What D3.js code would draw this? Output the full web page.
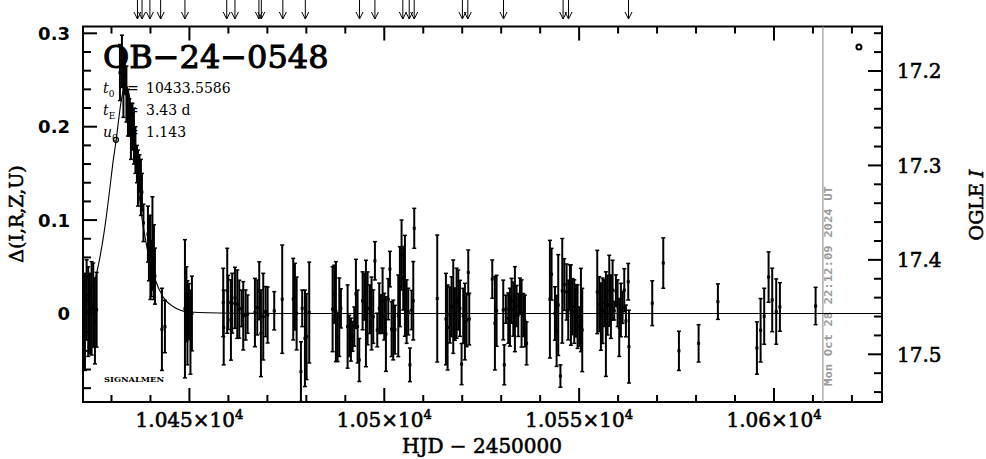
<!DOCTYPE html>
<html><head><meta charset="utf-8">
<script src="https://cdn.jsdelivr.net/npm/d3@7"></script>
<style>body{margin:0;background:#fff}svg{display:block}</style>
</head><body>
<script>
// ---------- DATA ----------
const hjd = [
10423.19,10423.62,10424.03,10424.47,10424.90,10425.31,10425.75,10426.19,
10432.17,10432.68,10433.06,10433.45,10433.83,10434.22,10434.60,10434.99,10435.37,10435.76,10436.14,10436.53,10436.79,10437.17,10437.55,10437.81,10438.20,10439.35,10439.61,10439.99,10440.25,10440.51,10440.89,10441.15,10442.94,10443.71,
10448.85,10449.23,10449.49,10449.87,10450.26,10450.64,
10458.67,10458.80,10459.70,10459.96,10460.65,10460.98,10461.68,10462.27,10462.78,10463.39,10463.81,10464.42,10464.93,10466.81,10467.40,10467.91,10468.35,10468.94,10469.55,10470.07,10471.76,10473.81,10476.64,10477.07,10477.51,10478.61,10478.94,10479.64,10480.07,10480.74,
10486.74,10487.16,10487.59,10488.02,10488.45,10488.87,10490.59,10491.01,10491.44,10491.87,10492.30,10492.72,10493.15,10493.58,10494.44,10494.86,10495.29,10495.72,10496.32,10496.74,10497.17,10497.60,10498.20,10498.71,10499.14,10499.57,10499.99,10500.42,10501.02,10501.45,10501.88,10502.30,10502.73,10503.59,10504.01,10504.44,10504.87,10505.30,10505.73,10506.15,10506.58,10507.01,10507.44,10507.69,10513.59,
10515.82,10516.25,10516.84,10517.27,10517.70,10518.13,10518.56,10518.98,10519.41,10519.84,10520.26,10520.69,10521.12,10521.55,10521.80,10527.71,10528.39,10528.82,10530.53,10530.79,10531.21,10531.81,10532.24,10532.67,10533.10,10533.52,10533.95,10534.38,10534.81,10535.23,10535.66,10536.09,10536.52,10542.50,10542.93,10543.79,10544.22,10544.64,10545.20,10545.67,10546.18,10546.78,10547.21,10547.64,
10547.89,10548.32,10548.75,10549.18,10549.60,10550.03,10550.46,10550.80,10554.65,10555.16,10555.59,10556.02,10556.45,10556.87,10557.30,10557.73,10558.16,10558.59,10559.01,10559.44,10559.87,10560.29,10560.72,10561.15,10561.58,10562.01,10562.60,10562.78,10568.76,10571.59,10575.61,
10580.66,10585.61,10595.62,10596.57,10597.49,10598.62,10599.55,10600.57,10601.52,10610.68
];
const delta = [
-0.009,0.0145,0.002,0.000,0.0055,0.009,-0.008,0.004,
0.258,0.270,0.245,0.255,0.235,0.215,0.210,0.195,0.200,0.190,0.175,0.160,0.145,0.150,0.135,0.130,0.097,0.085,0.070,0.060,0.048,0.075,0.055,0.040,-0.017,-0.014,
0.005,0.010,-0.010,0.002,-0.020,0.000,
0.0118,-0.015,0.0243,0.0118,-0.007,0.011,0.0168,0.010,0.0046,0.0055,-0.0025,-0.0016,-0.0007,0.001,0.0064,0.0243,-0.0212,-0.0034,0.002,-0.0016,0.0029,0.0153,0.0153,0.018,0.000,-0.0623,0.0055,-0.0266,-0.0248,0.001,
0.0046,0.0207,0.002,-0.0255,-0.004,0.0055,-0.014,-0.024,-0.028,-0.0245,-0.014,0.021,-0.014,-0.0498,0.0136,0.018,0.000,0.0055,0.0046,0.000,-0.0034,0.0564,-0.0177,0.0055,0.000,0.0136,-0.0034,-0.022,0.0153,0.0475,-0.0168,-0.0177,-0.0173,-0.0025,0.0287,0.0626,0.0377,0.0296,0.002,0.002,-0.055,0.0037,0.0136,0.0912,0.016,
-0.006,-0.015,-0.0016,0.0073,0.0073,-0.0007,0.011,0.0145,0.0055,-0.0542,-0.0025,-0.0087,-0.007,0.044,-0.006,0.0368,-0.0105,0.0029,0.0037,-0.055,0.0046,-0.005,-0.004,0.0136,0.0046,0.0046,0.008,-0.0016,0.0189,0.000,-0.0016,-0.008,-0.032,0.0153,0.042,0.000,-0.0187,0.009,-0.067,0.0243,0.031,0.023,0.0037,0.028,
0.009,0.0073,0.002,0.0029,-0.0034,-0.014,0.0037,-0.0177,0.023,0.010,-0.0034,0.0029,0.011,-0.0114,0.009,0.0243,0.0073,0.025,0.003,0.0243,0.011,-0.015,0.0037,0.0064,0.025,-0.008,0.034,-0.0355,0.011,0.054,-0.040,
-0.032,0.0127,-0.037,-0.018,-0.003,0.039,0.0145,0.002,0.007,0.008
];
const err = [
0.052,0.043,0.048,0.043,0.050,0.045,0.046,0.040,
0.030,0.028,0.035,0.020,0.030,0.025,0.020,0.030,0.025,0.030,0.025,0.020,0.030,0.020,0.030,0.020,0.020,0.030,0.035,0.045,0.030,0.050,0.040,0.030,0.044,0.028,
0.074,0.040,0.045,0.030,0.045,0.040,
0.0366,0.040,0.0455,0.029,0.043,0.032,0.0327,0.0366,0.031,0.0196,0.0366,0.0268,0.0205,0.0366,0.0294,0.031,0.0464,0.0464,0.0268,0.030,0.0205,0.058,0.0437,0.0357,0.039,0.032,0.0196,0.0517,0.046,0.054,
0.0455,0.031,0.0535,0.026,0.042,0.021,0.0446,0.022,0.023,0.016,0.021,0.037,0.039,0.023,0.031,0.025,0.057,0.039,0.026,0.039,0.0286,0.0205,0.018,0.027,0.020,0.035,0.025,0.040,0.022,0.019,0.0294,0.032,0.026,0.0437,0.0428,0.0375,0.034,0.054,0.034,0.025,0.018,0.021,0.042,0.0214,0.068,
0.049,0.0455,0.030,0.032,0.050,0.028,0.0375,0.032,0.030,0.022,0.0294,0.041,0.0286,0.024,0.0277,0.0205,0.050,0.038,0.032,0.0214,0.015,0.027,0.031,0.024,0.029,0.0455,0.022,0.023,0.019,0.036,0.023,0.0277,0.023,0.063,0.0277,0.0286,0.038,0.054,0.012,0.056,0.0277,0.030,0.032,0.024,
0.043,0.030,0.034,0.028,0.034,0.021,0.0446,0.0446,0.0446,0.0294,0.036,0.035,0.025,0.056,0.032,0.038,0.034,0.032,0.010,0.017,0.025,0.031,0.0286,0.017,0.023,0.017,0.0196,0.039,0.024,0.027,0.021,
0.020,0.019,0.028,0.034,0.030,0.027,0.034,0.035,0.026,0.020
];
const circleHJD = [10431.14];
const circleDelta = [0.186];
const legendHJD = [10621.8];
const legendDelta = [0.2853];

const curveHJD = [10422.67,10424.21,10425.75,10427.03,10428.32,10429.52,10430.45,10431.22,10431.91,10432.50,10433.56,10434.48,10435.25,10436.02,10436.78,10437.63,10438.91,10439.86,10441.07,10443.20,10445.77,10450.13,10460.39,10478.36,10627.7];
const curveDelta = [0.013,0.022,0.036,0.060,0.093,0.132,0.164,0.186,0.210,0.228,0.245,0.236,0.212,0.178,0.140,0.108,0.075,0.056,0.038,0.018,0.0075,0.0015,0.0003,0,0];

const arrowHJD = [10436.66,10437.84,10439.86,10442.61,10448.85,10459.57,10461.68,10467.83,10468.45,10473.97,10479.74,10493.65,10497.60,10504.76,10506.40,10507.68,10520.05,10521.44,10530.60,10545.89,10547.28,10562.67];

const xTicks = [10450, 10500, 10550, 10600];
const xTickMant = ["1.045", "1.05", "1.055", "1.06"];
const yTicksLeft = [0, 0.1, 0.2, 0.3];
const yTickLabelsLeft = ["0", "0.1", "0.2", "0.3"];
const yTicksRight = [17.2, 17.3, 17.4, 17.5];
const yTickLabelsRight = ["17.2", "17.3", "17.4", "17.5"];

const title = "OB\u221224\u22120548";
const paramT0 = "10433.5586";
const paramTE = "3.43 d";
const paramU0 = "1.143";
const dateStamp = "Mon Oct 28 22:12:09 2024 UT";
const dateLineHJD = 10612.55;

// ---------- LAYOUT ----------
const W = 986, H = 459;
const L = 83, R = 882, T = 26.5, B = 402;
const x = d3.scaleLinear().domain([10422.69, 10627.72]).range([L, R]);
const y = d3.scaleLinear().domain([-0.0948, 0.3073]).range([B, T]);
const yR = d3.scaleLinear().domain([17.5505, 17.1529]).range([B, T]);
const serif = "'DejaVu Serif', serif";

const svg = d3.select("body").append("svg").attr("width", W).attr("height", H)
  .style("font-family", serif);

function heavy(sel, w) { return sel.attr("stroke", "#000").attr("stroke-width", w).attr("paint-order", "stroke"); }

// frame
svg.append("rect").attr("x", L).attr("y", T).attr("width", R - L).attr("height", B - T)
  .attr("fill", "none").attr("stroke", "#000").attr("stroke-width", 2);

// x ticks (bottom & top)
const xMinor = d3.range(10430, 10625, 10);
const gt = svg.append("g").attr("stroke", "#000").attr("stroke-width", 2);
xMinor.forEach(v => {
  const major = v % 50 === 0;
  const len = major ? 14 : 7;
  gt.append("line").attr("x1", x(v)).attr("x2", x(v)).attr("y1", B).attr("y2", B - len);
  gt.append("line").attr("x1", x(v)).attr("x2", x(v)).attr("y1", T).attr("y2", T + len);
});
// left ticks
d3.range(-0.08, 0.301, 0.02).forEach(v => {
  const vv = Math.round(v * 100) / 100;
  const major = Math.abs(vv * 10 - Math.round(vv * 10)) < 1e-6;
  gt.append("line").attr("x1", L).attr("x2", L + (major ? 14 : 8)).attr("y1", y(vv)).attr("y2", y(vv));
});
// right ticks
d3.range(17.16, 17.541, 0.02).forEach(v => {
  const vv = Math.round(v * 100) / 100;
  const major = Math.abs(vv * 10 - Math.round(vv * 10)) < 1e-6;
  gt.append("line").attr("x1", R).attr("x2", R - (major ? 14 : 8)).attr("y1", yR(vv)).attr("y2", yR(vv));
});

// tick labels
xTicks.forEach((v, i) => {
  const t = heavy(svg.append("text").attr("x", x(v)).attr("y", 427).attr("text-anchor", "middle")
    .attr("font-size", 20).attr("fill", "#000"), 0.6);
  t.append("tspan").text(xTickMant[i] + "\u00d710");
  t.append("tspan").attr("dy", -8).attr("font-size", 13).text("4");
});
yTicksLeft.forEach((v, i) => {
  svg.append("text").attr("x", 70).attr("y", y(v)).attr("dy", "0.36em").attr("text-anchor", "end")
    .attr("font-family", "'DejaVu Sans', sans-serif").attr("font-weight", "bold")
    .attr("font-size", 18).text(yTickLabelsLeft[i]);
});
yTicksRight.forEach((v, i) => {
  heavy(svg.append("text").attr("x", 897).attr("y", yR(v)).attr("dy", "0.36em")
    .attr("font-size", 20).text(yTickLabelsRight[i]), 0.6);
});

// axis labels
heavy(svg.append("text").attr("x", 482).attr("y", 453).attr("text-anchor", "middle")
  .attr("font-size", 20).text("HJD  \u2212  2450000"), 0.6);
heavy(svg.append("text").attr("transform", "translate(23,214) rotate(-90)").attr("text-anchor", "middle")
  .attr("font-size", 19).text("\u0394(I,R,Z,U)"), 0.6);
const ogle = heavy(svg.append("text").attr("transform", "translate(983,205) rotate(-90)").attr("text-anchor", "middle")
  .attr("font-size", 19), 0.6);
ogle.append("tspan").text("OGLE ");
ogle.append("tspan").attr("font-style", "italic").text("I");

// title and parameters
heavy(svg.append("text").attr("x", 103).attr("y", 68).attr("font-size", 32).text(title), 1);
const pr = [[93, "0", paramT0], [115, "E", paramTE], [137, "0", paramU0]];
pr.forEach((p, i) => {
  const g = svg.append("text").attr("y", p[0]).attr("font-size", 14);
  g.append("tspan").attr("x", 103).attr("font-style", "italic").text(i === 2 ? "u" : "t");
  g.append("tspan").attr("dy", 4).attr("font-size", 9).text(p[1]);
  g.append("tspan").attr("x", 127).attr("dy", -4).text("=");
  g.append("tspan").attr("x", 146).text(p[2]);
});
svg.append("text").attr("x", 104).attr("y", 382).attr("font-size", 8).attr("font-weight", "bold")
  .attr("textLength", 60).attr("lengthAdjust", "spacingAndGlyphs").text("SIGNALMEN");

// date line and stamp
svg.append("line").attr("x1", x(dateLineHJD)).attr("x2", x(dateLineHJD)).attr("y1", T).attr("y2", B)
  .attr("stroke", "#999").attr("stroke-width", 1.2);
svg.append("text").attr("transform", `translate(${x(dateLineHJD) + 9},386) rotate(-90)`)
  .attr("font-family", "'DejaVu Sans Mono', monospace").attr("font-weight", "bold")
  .attr("font-size", 10).attr("fill", "#999")
  .attr("textLength", 200).attr("lengthAdjust", "spacingAndGlyphs").text(dateStamp);

// model curve
const line = d3.line().x(d => x(d[0])).y(d => y(d[1])).curve(d3.curveMonotoneX);
svg.append("path").datum(curveHJD.map((h, i) => [h, curveDelta[i]]))
  .attr("d", line).attr("fill", "none").attr("stroke", "#000").attr("stroke-width", 1.1);

// error bars
const gd = svg.append("g").attr("stroke", "#000");
hjd.forEach((h, i) => {
  const cx = x(h), y1 = y(delta[i] - err[i]), y2 = y(delta[i] + err[i]);
  gd.append("line").attr("x1", cx).attr("x2", cx).attr("y1", y1).attr("y2", y2).attr("stroke-width", 2);
  gd.append("line").attr("x1", cx - 2).attr("x2", cx + 2).attr("y1", y1).attr("y2", y1).attr("stroke-width", 1.5);
  gd.append("line").attr("x1", cx - 2).attr("x2", cx + 2).attr("y1", y2).attr("y2", y2).attr("stroke-width", 1.5);
  gd.append("rect").attr("x", cx - 1.5).attr("y", y(delta[i]) - 1.5).attr("width", 3).attr("height", 3)
    .attr("fill", "#000").attr("stroke", "none");
});
circleHJD.forEach((h, i) => {
  svg.append("circle").attr("cx", x(h)).attr("cy", y(circleDelta[i])).attr("r", 2.5)
    .attr("fill", "none").attr("stroke", "#000").attr("stroke-width", 1.3);
});
legendHJD.forEach((h, i) => {
  svg.append("circle").attr("cx", x(h)).attr("cy", y(legendDelta[i])).attr("r", 2.5)
    .attr("fill", "none").attr("stroke", "#000").attr("stroke-width", 2);
});

// arrows on top
const ga = svg.append("g").attr("stroke", "#000").attr("stroke-width", 1).attr("fill", "none");
arrowHJD.forEach(h => {
  const ax = x(h);
  ga.append("line").attr("x1", ax).attr("x2", ax).attr("y1", 0).attr("y2", 19);
  ga.append("path").attr("d", `M${ax - 3.5},12 L${ax},19 L${ax + 3.5},12`);
});
</script>
</body></html>
